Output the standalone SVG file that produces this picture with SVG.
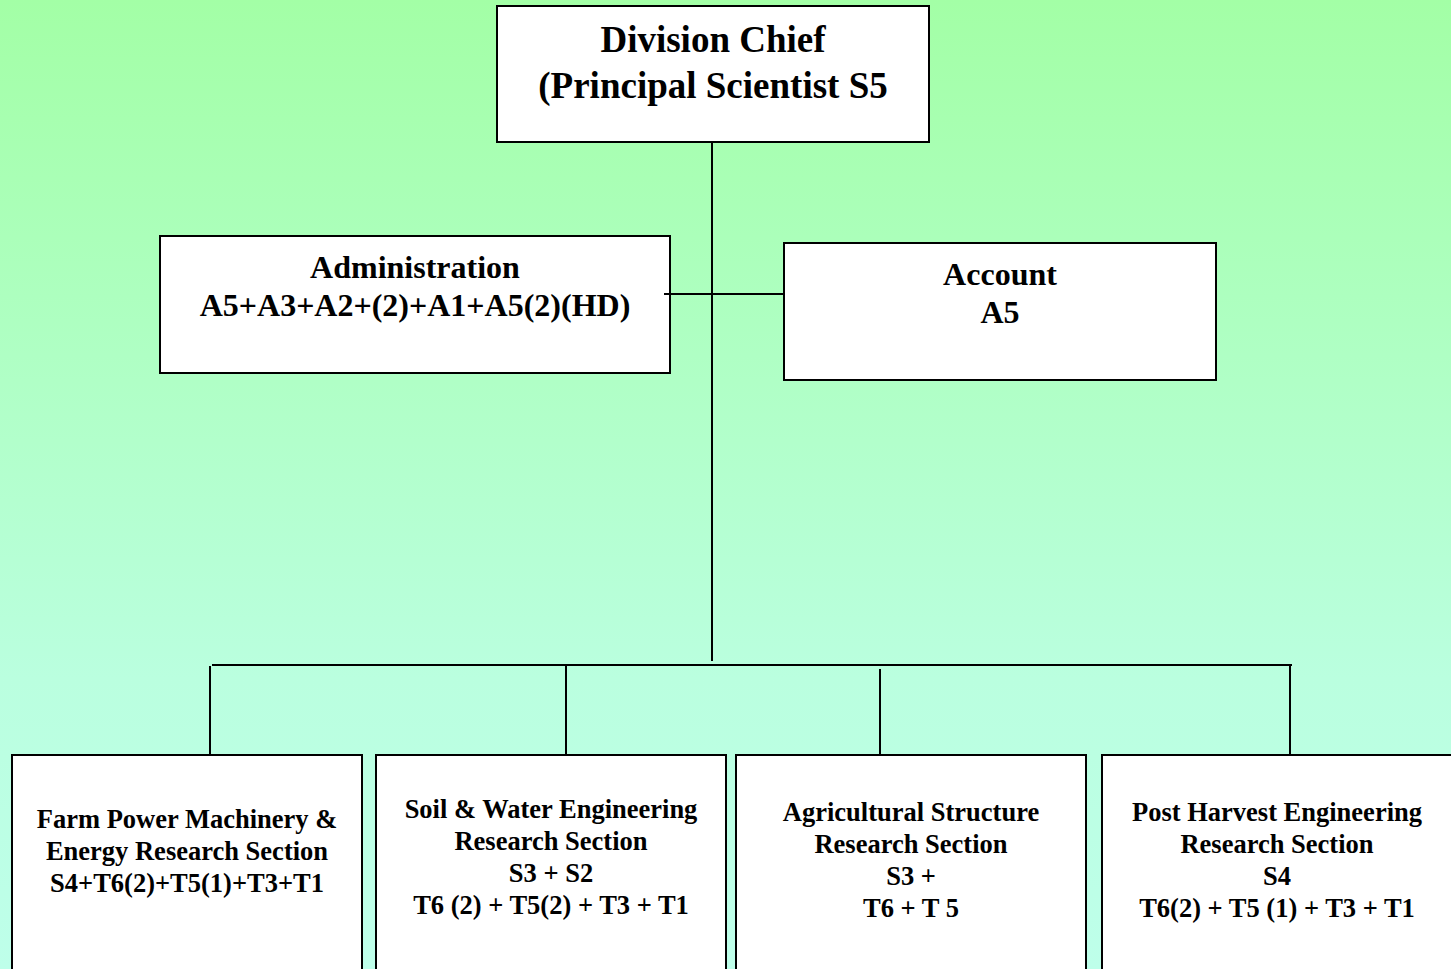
<svg xmlns="http://www.w3.org/2000/svg" width="1451" height="969" viewBox="0 0 1451 969">
<defs>
<linearGradient id="bg" x1="0" y1="0" x2="0" y2="1">
<stop offset="0" stop-color="#A3FFA6"/>
<stop offset="0.7" stop-color="#BAFFDF"/>
<stop offset="1" stop-color="#BEFFEA"/>
</linearGradient>
</defs>
<style>
.box{fill:#fff;stroke:#000;stroke-width:2}
.t{font-family:"Liberation Serif","Times New Roman",serif;font-weight:bold;fill:#000;text-anchor:middle}
.big{font-size:37px}
.mid{font-size:32px}
.sm{font-size:26.5px}
.ln{stroke:#000;stroke-width:2;fill:none}
</style>
<rect x="0" y="0" width="1451" height="969" fill="url(#bg)"/>
<g id="division-chief">
<rect class="box" x="497" y="6" width="432" height="136"/>
<text class="t big" x="713" y="52">Division Chief</text>
<text class="t big" x="713" y="98">(Principal Scientist S5</text>
</g>
<g id="administration">
<rect class="box" x="160" y="236" width="510" height="137"/>
<text class="t mid" x="415" y="278">Administration</text>
<text class="t mid" x="415" y="316">A5+A3+A2+(2)+A1+A5(2)(HD)</text>
</g>
<g id="account">
<rect class="box" x="784" y="243" width="432" height="137"/>
<text class="t mid" x="1000" y="285">Account</text>
<text class="t mid" x="1000" y="323">A5</text>
</g>
<g id="farm-power">
<rect class="box" x="12" y="755" width="350" height="230"/>
<text class="t sm" x="187" y="828">Farm Power Machinery &amp;</text>
<text class="t sm" x="187" y="860">Energy Research Section</text>
<text class="t sm" x="187" y="892">S4+T6(2)+T5(1)+T3+T1</text>
</g>
<g id="soil-water">
<rect class="box" x="376" y="755" width="350" height="230"/>
<text class="t sm" x="551" y="818">Soil &amp; Water Engineering</text>
<text class="t sm" x="551" y="850">Research Section</text>
<text class="t sm" x="551" y="882">S3 + S2</text>
<text class="t sm" x="551" y="914">T6 (2) + T5(2) + T3 + T1</text>
</g>
<g id="agri-structure">
<rect class="box" x="736" y="755" width="350" height="230"/>
<text class="t sm" x="911" y="821">Agricultural Structure</text>
<text class="t sm" x="911" y="853">Research Section</text>
<text class="t sm" x="911" y="885">S3 +</text>
<text class="t sm" x="911" y="917">T6 + T 5</text>
</g>
<g id="post-harvest">
<rect class="box" x="1102" y="755" width="360" height="230"/>
<text class="t sm" x="1277" y="821">Post Harvest Engineering</text>
<text class="t sm" x="1277" y="853">Research Section</text>
<text class="t sm" x="1277" y="885">S4</text>
<text class="t sm" x="1277" y="917">T6(2) + T5 (1) + T3 + T1</text>
</g>
<g id="connectors">
<line class="ln" x1="712" y1="142" x2="712" y2="661" stroke-width="1.5"/>
<line class="ln" x1="664" y1="294" x2="784" y2="294"/>
<line class="ln" x1="212" y1="665" x2="1292" y2="665" stroke-width="2.5"/>
<line class="ln" x1="210" y1="666" x2="210" y2="754" stroke-width="1.5"/>
<line class="ln" x1="566" y1="666" x2="566" y2="754"/>
<line class="ln" x1="880" y1="669" x2="880" y2="754" stroke-width="1.5"/>
<line class="ln" x1="1290" y1="666" x2="1290" y2="754" stroke-width="1.5"/>
</g>
</svg>
